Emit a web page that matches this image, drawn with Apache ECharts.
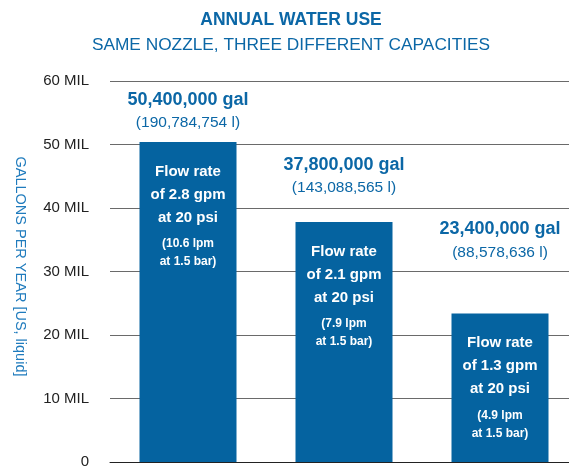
<!DOCTYPE html>
<html>
<head>
<meta charset="utf-8">
<script src="https://cdn.jsdelivr.net/npm/echarts@6/dist/echarts.min.js"></script>
<style>
html,body{margin:0;padding:0;background:#fff;}
#c{width:569px;height:466px;}
</style>
</head>
<body>
<div id="c"></div>
<script>
// ---- data ----
const categories = ['2.8 gpm', '2.1 gpm', '1.3 gpm'];
const gallonsPerYear = [50400000, 37800000, 23400000];
const galLabels = ['50,400,000 gal', '37,800,000 gal', '23,400,000 gal'];
const literLabels = ['(190,784,754 l)', '(143,088,565 l)', '(88,578,636 l)'];
const flowGpm = ['2.8', '2.1', '1.3'];
const flowLpm = ['10.6', '7.9', '4.9'];
const yMin = 0, yMax = 60000000, yStep = 10000000;
const titleText = 'ANNUAL WATER USE';
const subtitleText = 'SAME NOZZLE, THREE DIFFERENT CAPACITIES';
const yAxisTitle = 'GALLONS PER YEAR [US, liquid]';

// ---- style ----
const FONT = '"Liberation Sans", Arial, sans-serif';
const BLUE = '#0563a0';
const TEXT_BLUE = '#0b67a6';
const topLabelDistances = [8, 23, 50];

const chart = echarts.init(document.getElementById('c'), null, {renderer: 'canvas'});

const insideData = gallonsPerYear.map((v, i) => ({
  value: v,
  label: {
    formatter: '{m|Flow rate}\n{m|of ' + flowGpm[i] + ' gpm}\n{m|at 20 psi}\n{g| }\n{s|(' + flowLpm[i] + ' lpm}\n{s|at 1.5 bar)}'
  }
}));
const topData = gallonsPerYear.map((v, i) => ({
  value: v,
  label: {
    distance: topLabelDistances[i],
    formatter: '{a|' + galLabels[i] + '}\n{b|' + literLabels[i] + '}'
  }
}));

chart.setOption({
  animation: false,
  backgroundColor: '#ffffff',
  title: [
    {
      text: titleText, left: 291, top: 11, textAlign: 'center', padding: 0,
      textStyle: {fontFamily: FONT, fontWeight: 'bold', fontSize: 17.5, color: TEXT_BLUE}
    },
    {
      text: subtitleText, left: 291, top: 37, textAlign: 'center', padding: 0,
      textStyle: {fontFamily: FONT, fontWeight: 'normal', fontSize: 17.3, color: TEXT_BLUE}
    }
  ],
  grid: {left: 110, top: 81, width: 468, bottom: 4, containLabel: false, outerBoundsMode: 'none'},
  xAxis: {
    type: 'category',
    data: categories,
    axisLine: {show: true, lineStyle: {color: '#222', width: 1}},
    axisTick: {show: false},
    axisLabel: {show: false}
  },
  yAxis: {
    type: 'value',
    min: yMin, max: yMax, interval: yStep,
    name: yAxisTitle,
    nameLocation: 'middle',
    nameRotate: -90,
    nameGap: 83,
    nameTextStyle: {fontFamily: FONT, fontSize: 14.5, color: '#1f7bbd', padding: [0, 10, 0, 0]},
    axisLine: {show: false},
    axisTick: {show: false},
    axisLabel: {
      margin: 21,
      fontFamily: FONT, fontSize: 15, color: '#222',
      formatter: v => v === 0 ? '0' : (v / 1000000) + ' MIL'
    },
    splitLine: {show: true, lineStyle: {color: '#6a6a6a', width: 1.2}}
  },
  series: [
    {
      type: 'bar',
      data: insideData,
      barWidth: 97,
      itemStyle: {color: BLUE},
      label: {
        show: true,
        position: 'insideTop',
        distance: 18,
        align: 'center',
        color: '#fff',
        rich: {
          m: {fontFamily: FONT, fontWeight: 'bold', fontSize: 15, lineHeight: 23, color: '#fff', align: 'center'},
          g: {fontSize: 1, lineHeight: 6},
          s: {fontFamily: FONT, fontWeight: 'bold', fontSize: 12, lineHeight: 18, color: '#fff', align: 'center'}
        }
      },
      z: 2
    },
    {
      type: 'bar',
      data: topData,
      barWidth: 97,
      barGap: '-100%',
      silent: true,
      itemStyle: {color: 'rgba(0,0,0,0)'},
      label: {
        show: true,
        position: 'top',
        align: 'center',
        rich: {
          a: {fontFamily: FONT, fontWeight: 'bold', fontSize: 18, lineHeight: 24, color: TEXT_BLUE, align: 'center'},
          b: {fontFamily: FONT, fontWeight: 'normal', fontSize: 15.5, lineHeight: 22, color: TEXT_BLUE, align: 'center'}
        }
      },
      z: 3
    }
  ]
});
</script>
</body>
</html>
